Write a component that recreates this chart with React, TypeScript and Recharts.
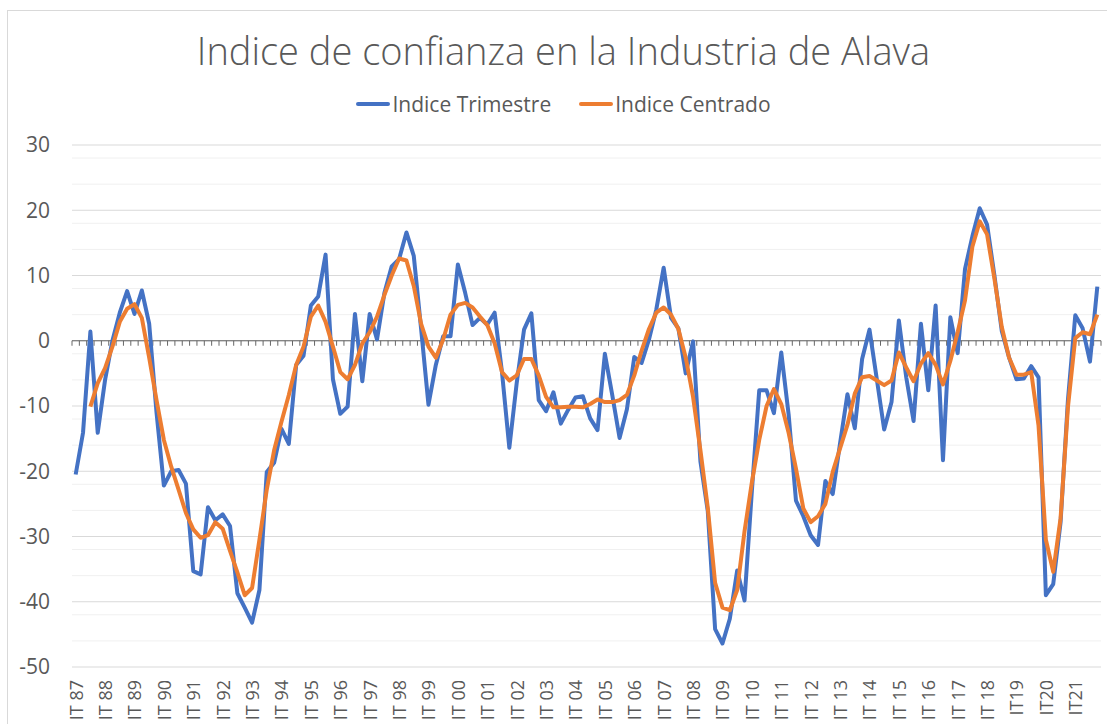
import React from 'react';
import { LineChart, Line, XAxis, YAxis, CartesianGrid, ReferenceLine } from 'recharts';

// Años del eje (trimestres I..IV de cada año)
const years = [
    '87', '88', '89', '90', '91', '92', '93', '94', '95', '96', '97', '98', '99',
    '00', '01', '02', '03', '04', '05', '06', '07', '08', '09', '10', '11', '12',
    '13', '14', '15', '16', '17', '18', '19', '20', '21',
];
const quarters = ['I', 'II', 'III', 'IV'];
// desde 2019 las etiquetas van sin espacio ("IT19")
const compactYears = ['19', '20', '21'];

const yTicks = [-50, -40, -30, -20, -10, 0, 10, 20, 30];
const yMinorTicks = [-48, -46, -44, -42, -38, -36, -34, -32, -28, -26, -24, -22, -18, -16, -14, -12, -8, -6, -4, -2, 2, 4, 6, 8, 12, 14, 16, 18, 22, 24, 26, 28];

const indiceTrimestre = [
    -20.5, -14.1, 1.4, -14.1, -6.0, 0.0, 4.3, 7.6, 4.1, 7.7, 2.6, -11.0,
    -22.2, -20.0, -19.8, -21.9, -35.3, -35.8, -25.5, -27.5, -26.6, -28.4, -38.7, -40.9,
    -43.2, -38.2, -20.1, -18.7, -13.5, -15.8, -3.7, -2.3, 5.4, 6.8, 13.2, -5.9,
    -11.2, -10.1, 4.1, -6.2, 4.1, 0.2, 7.3, 11.4, 12.5, 16.6, 13.0, 1.8,
    -9.8, -3.7, 0.7, 0.7, 11.7, 7.3, 2.4, 3.5, 2.5, 4.3, -4.8, -16.4,
    -6.5, 1.7, 4.2, -9.1, -10.8, -7.9, -12.7, -10.6, -8.7, -8.5, -11.9, -13.7,
    -2.0, -8.3, -14.9, -10.5, -2.5, -3.4, 0.2, 4.8, 11.2, 3.5, 1.9, -5.0,
    -0.1, -18.5, -26.1, -44.2, -46.4, -42.6, -35.2, -39.8, -23.0, -7.6, -7.6, -11.1,
    -1.8, -11.3, -24.5, -26.9, -29.8, -31.3, -21.5, -23.5, -15.7, -8.2, -13.4, -2.8,
    1.7, -5.9, -13.6, -9.4, 3.1, -5.6, -12.3, 2.6, -7.6, 5.4, -18.3, 3.6,
    -1.9, 11.0, 16.0, 20.3, 17.8, 10.0, 1.5, -2.6, -5.9, -5.8, -3.9, -5.6,
    -39.0, -37.3, -27.8, -9.1, 3.9, 1.9, -3.2, 8.3,
];

const indiceCentrado = [
    null, null, -10.1, -6.5, -4.2, -0.9, 2.9, 4.9, 5.6, 3.5, -2.6, -9.1,
    -15.2, -19.3, -22.8, -26.4, -28.9, -30.2, -29.8, -27.8, -28.8, -32.2, -35.5, -39.0,
    -37.9, -30.5, -22.8, -16.8, -12.4, -8.3, -3.7, -0.9, 3.7, 5.4, 2.9, -0.9,
    -4.8, -5.9, -3.7, -0.4, 1.3, 3.7, 7.0, 10.0, 12.6, 12.3, 8.4, 2.6,
    -0.9, -2.6, 0.2, 4.0, 5.5, 5.8, 5.1, 3.7, 2.4, -0.4, -4.8, -6.1,
    -5.3, -2.8, -2.8, -5.3, -8.6, -10.2, -10.2, -10.1, -10.1, -10.2, -9.7, -9.0,
    -9.4, -9.4, -9.1, -8.3, -5.3, -1.5, 1.8, 4.3, 5.1, 4.0, 1.8, -2.6,
    -8.6, -16.8, -25.6, -37.1, -40.9, -41.3, -38.2, -29.2, -21.7, -15.2, -10.0, -7.4,
    -9.7, -14.1, -19.6, -25.7, -27.8, -26.9, -25.0, -20.1, -16.5, -12.9, -8.1, -5.6,
    -5.4, -6.1, -6.8, -6.1, -1.8, -4.1, -6.2, -3.5, -1.9, -3.7, -6.7, -3.1,
    1.3, 6.2, 14.4, 18.3, 16.3, 9.5, 2.1, -2.6, -5.2, -5.2, -4.8, -13.0,
    -30.5, -35.4, -27.2, -10.2, 0.4, 1.3, 1.0, 4.0,
];

const categories = years.flatMap((y) =>
    quarters.map((q) => `${q}T${compactYears.includes(y) ? '' : ' '}${y}`)
);

const data = categories.map((periodo, i) => ({
    periodo,
    trimestre: indiceTrimestre[i],
    centrado: indiceCentrado[i],
}));

const FONT = '"Open Sans", "Noto Sans", sans-serif';
const TEXT = '#595959';
const BLUE = '#4472C4';
const ORANGE = '#ED7D31';

const W = 1107;
const H = 724;
const PLOT_LEFT = 72;
const PLOT_RIGHT = 6;
const HALF_STEP = (W - PLOT_LEFT - PLOT_RIGHT) / categories.length / 2;

// eje horizontal en 0 con marcas en cada trimestre
const ZeroAxis = (props: any) => {
    const { x1, x2, y1 } = props;
    const left = Math.min(x1, x2);
    const right = Math.max(x1, x2);
    const step = (right - left) / categories.length;
    const marks = [];
    for (let k = 0; k <= categories.length; k++) {
        const tx = left + k * step;
        marks.push(<line key={k} x1={tx} x2={tx} y1={y1} y2={y1 + 5} />);
    }
    return (
        <g stroke="#666" strokeWidth={1}>
            <line x1={left} x2={right} y1={y1} y2={y1} />
            {marks}
        </g>
    );
};

const QuarterTick = ({ x, y, payload }: any) => (
    <text
        x={x}
        y={y}
        transform={`rotate(-90 ${x} ${y})`}
        textAnchor="end"
        dominantBaseline="central"
        fill={TEXT}
        fontSize={18}
        fontFamily={FONT}
    >
        {payload.value}
    </text>
);

const LegendItem = ({ color, label }: { color: string; label: string }) => (
    <div style={{ display: 'flex', alignItems: 'center', margin: '0 14px' }}>
        <div style={{ width: 34, height: 4, background: color, borderRadius: 2, marginRight: 2 }} />
        <span>{label}</span>
    </div>
);

export default function App() {
    return (
        <div style={{ position: 'absolute', left: 0, top: 0, width: W, height: H, overflow: 'hidden', background: '#fff', fontFamily: FONT }}>
            <div style={{ position: 'absolute', left: 7, top: 10, width: W + 50, height: H + 50, border: '1px solid #d9d9d9', boxSizing: 'border-box' }} />
            <div style={{ position: 'absolute', left: 10, top: 24, width: W, textAlign: 'center', fontSize: 38, fontWeight: 300, color: TEXT, lineHeight: '52px' }}>
                Indice de confianza en la Industria de Alava
            </div>
            <div style={{ position: 'absolute', left: 10, top: 90, width: W, display: 'flex', justifyContent: 'center', fontSize: 21, color: TEXT, lineHeight: '28px' }}>
                <LegendItem color={BLUE} label="Indice Trimestre" />
                <LegendItem color={ORANGE} label="Indice Centrado" />
            </div>
            <div style={{ position: 'absolute', left: 0, top: 0 }}>
                <LineChart width={W} height={H} data={data} margin={{ top: 145, right: PLOT_RIGHT, bottom: 0, left: 0 }}>
                    <CartesianGrid horizontalValues={yMinorTicks} vertical={false} stroke="#f0f0f0" />
                    <CartesianGrid vertical={false} stroke="#d9d9d9" />
                    <XAxis
                        dataKey="periodo"
                        interval={3}
                        height={57}
                        axisLine={false}
                        tickLine={false}
                        tickSize={0}
                        tickMargin={13}
                        padding={{ left: HALF_STEP, right: HALF_STEP }}
                        tick={<QuarterTick />}
                    />
                    <YAxis
                        width={PLOT_LEFT}
                        domain={[-50, 30]}
                        ticks={yTicks}
                        axisLine={false}
                        tickLine={false}
                        tickSize={0}
                        tickMargin={22}
                        tick={{ fill: TEXT, fontSize: 21, fontFamily: FONT }}
                    />
                    <ReferenceLine y={0} shape={ZeroAxis} />
                    <Line
                        type="linear"
                        dataKey="trimestre"
                        name="Indice Trimestre"
                        stroke={BLUE}
                        strokeWidth={4}
                        strokeLinejoin="round"
                        dot={false}
                        isAnimationActive={false}
                    />
                    <Line
                        type="linear"
                        dataKey="centrado"
                        name="Indice Centrado"
                        stroke={ORANGE}
                        strokeWidth={4}
                        strokeLinejoin="round"
                        dot={false}
                        isAnimationActive={false}
                    />
                </LineChart>
            </div>
        </div>
    );
}
